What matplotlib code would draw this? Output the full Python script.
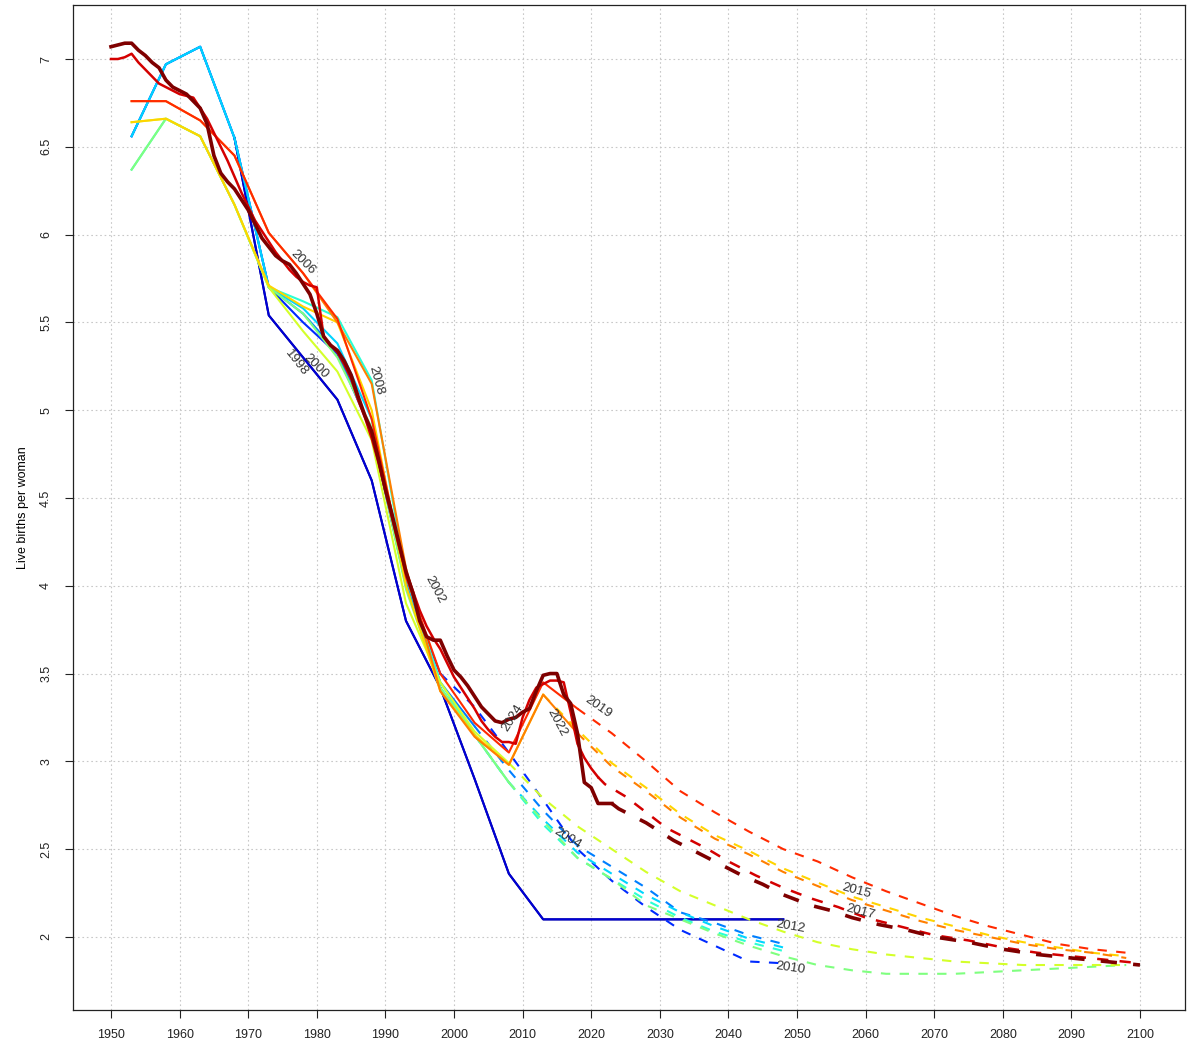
import matplotlib
matplotlib.use("Agg")
import matplotlib.pyplot as plt

plt.rcParams['font.family'] = ['Liberation Sans', 'DejaVu Sans']

# WPP revisions: estimates (solid) and projections (dashed)
revisions = ['1998', '2000', '2002', '2004', '2006', '2008', '2010',
             '2012', '2015', '2017', '2019', '2022', '2024']
colors = ['#00007F', '#0000D4', '#002AFF', '#007FFF', '#00D4FF', '#2AFFD4',
          '#7FFF7F', '#D4FF2A', '#FFD400', '#FF7F00', '#FF2A00', '#D40000',
          '#7F0000']
widths = [1.5] * 11 + [1.8, 2.6]

five = [1953, 1958, 1963, 1968, 1973, 1978, 1983, 1988, 1993, 1998, 2003, 2008, 2013, 2018]
tail = [2003, 2008, 2013, 2018, 2023, 2028, 2033, 2038, 2043, 2048]

est_years = {
    '1998': five[3:10] + tail,
    '2000': five[3:10] + tail,
    '2002': five[:10],
    '2004': five[:11],
    '2006': five[:11],
    '2008': five[:12],
    '2010': five[:12],
    '2012': five[:12],
    '2015': five[:13],
    '2017': five[:14],
    '2019': five[:14],
    '2022': list(range(1950, 2022)),
    '2024': list(range(1950, 2024)),
}
est_values = {
    '1998': [6.55, 5.54, 5.30, 5.06, 4.60, 3.80, 3.42,
             2.90, 2.36, 2.10, 2.10, 2.10, 2.10, 2.10, 2.10, 2.10, 2.10],
    '2000': [6.55, 5.54, 5.30, 5.06, 4.60, 3.80, 3.42,
             2.90, 2.36, 2.10, 2.10, 2.10, 2.10, 2.10, 2.10, 2.10, 2.10],
    '2002': [6.56, 6.97, 7.07, 6.55, 5.70, 5.50, 5.32, 4.88, 4.00, 3.50],
    '2004': [6.56, 6.97, 7.07, 6.55, 5.70, 5.55, 5.33, 4.88, 4.02, 3.45, 3.20],
    '2006': [6.56, 6.97, 7.07, 6.55, 5.70, 5.58, 5.38, 4.95, 4.00, 3.42, 3.15],
    '2008': [6.37, 6.66, 6.56, 6.17, 5.70, 5.62, 5.53, 5.17, 4.05, 3.45, 3.15, 2.88],
    '2010': [6.37, 6.66, 6.56, 6.17, 5.70, 5.55, 5.30, 4.90, 3.98, 3.42, 3.15, 2.88],
    '2012': [6.64, 6.66, 6.56, 6.17, 5.70, 5.45, 5.22, 4.83, 3.90, 3.45, 3.17, 2.99],
    '2015': [6.64, 6.66, 6.56, 6.17, 5.71, 5.59, 5.50, 5.00, 4.00, 3.40, 3.15, 2.98, 3.38],
    '2017': [6.76, 6.76, 6.65, 6.45, 6.01, 5.78, 5.50, 5.15, 4.10, 3.40, 3.14, 2.98, 3.38, 3.16],
    '2019': [6.76, 6.76, 6.65, 6.45, 6.01, 5.78, 5.52, 4.95, 4.05, 3.50, 3.22, 3.05, 3.45, 3.30],
    '2022': [7.00, 7.00, 7.01, 7.03, 6.98, 6.94, 6.90, 6.86, 6.84, 6.82,
             6.80, 6.79, 6.78, 6.72, 6.66, 6.58, 6.50, 6.42, 6.33, 6.24,
             6.16, 6.08, 6.02, 5.96, 5.90, 5.85, 5.80, 5.76, 5.73, 5.71,
             5.70, 5.42, 5.37, 5.33, 5.26, 5.18, 5.06, 4.96, 4.84, 4.70,
             4.54, 4.38, 4.22, 4.08, 3.97, 3.86, 3.77, 3.70, 3.64, 3.56,
             3.48, 3.42, 3.36, 3.30, 3.23, 3.18, 3.14, 3.11, 3.11, 3.10,
             3.25, 3.35, 3.42, 3.44, 3.46, 3.46, 3.45, 3.28, 3.10, 3.02,
             2.96, 2.91],
    '2024': [7.07, 7.08, 7.09, 7.09, 7.05, 7.02, 6.98, 6.95, 6.88, 6.84,
             6.82, 6.80, 6.76, 6.72, 6.63, 6.45, 6.35, 6.30, 6.26, 6.20,
             6.14, 6.06, 5.98, 5.93, 5.88, 5.85, 5.83, 5.78, 5.72, 5.66,
             5.55, 5.42, 5.37, 5.34, 5.28, 5.20, 5.08, 4.97, 4.88, 4.72,
             4.55, 4.40, 4.24, 4.08, 3.96, 3.80, 3.71, 3.69, 3.69, 3.60,
             3.52, 3.48, 3.43, 3.37, 3.31, 3.27, 3.23, 3.22, 3.24, 3.25,
             3.28, 3.30, 3.40, 3.49, 3.50, 3.50, 3.38, 3.33, 3.16, 2.88,
             2.85, 2.76, 2.76, 2.76],
}

late = [2053, 2058, 2063, 2068, 2073, 2078, 2083, 2088, 2093, 2098]
proj_years = {
    '2002': [1998, 2003, 2008, 2013, 2018, 2023, 2028, 2033, 2038, 2043, 2048],
    '2004': [2003, 2008, 2013, 2018, 2023, 2028, 2033, 2038, 2043, 2048],
    '2006': [2003, 2008, 2013, 2018, 2023, 2028, 2033, 2038, 2043, 2048],
    '2008': [2008, 2013, 2018, 2023, 2028, 2033, 2038, 2043, 2048],
    '2010': [2008, 2013, 2018, 2023, 2028, 2033, 2038, 2043, 2048] + late,
    '2012': [2008, 2013, 2018, 2023, 2028, 2033, 2038, 2043, 2048] + late,
    '2015': [2013, 2018, 2023, 2028, 2033, 2038, 2043, 2048] + late,
    '2017': [2018, 2023, 2028, 2033, 2038, 2043, 2048] + late,
    '2019': [2018, 2023, 2028, 2033, 2038, 2043, 2048] + late,
    '2022': [2021, 2022, 2025, 2028, 2031, 2034, 2037, 2040, 2044, 2048, 2052,
             2056, 2060, 2065, 2070, 2075, 2080, 2085, 2090, 2095, 2100],
    '2024': [2023, 2024, 2028, 2032, 2035, 2038, 2042, 2045, 2048, 2052, 2055,
             2058, 2062, 2066, 2070, 2075, 2080, 2085, 2090, 2095, 2100],
}
proj_values = {
    '2002': [3.50, 3.31, 3.05, 2.78, 2.50, 2.32, 2.17, 2.04, 1.95, 1.86, 1.85],
    '2004': [3.20, 2.95, 2.72, 2.52, 2.40, 2.28, 2.14, 2.08, 2.01, 1.96],
    '2006': [3.15, 2.88, 2.67, 2.48, 2.36, 2.24, 2.14, 2.06, 1.99, 1.94],
    '2008': [2.88, 2.64, 2.45, 2.33, 2.21, 2.11, 2.03, 1.97, 1.92],
    '2010': [2.88, 2.66, 2.45, 2.33, 2.18, 2.10, 2.02, 1.95, 1.89,
             1.84, 1.81, 1.79, 1.79, 1.79, 1.80, 1.81, 1.82, 1.83, 1.84],
    '2012': [2.99, 2.79, 2.63, 2.50, 2.37, 2.26, 2.18, 2.10, 2.03,
             1.97, 1.93, 1.90, 1.88, 1.86, 1.85, 1.84, 1.84, 1.84, 1.84],
    '2015': [3.38, 3.18, 2.99, 2.85, 2.70, 2.58, 2.49, 2.39,
             2.31, 2.23, 2.17, 2.11, 2.06, 2.01, 1.97, 1.94, 1.91, 1.89],
    '2017': [3.16, 2.97, 2.83, 2.68, 2.56, 2.47, 2.37,
             2.29, 2.21, 2.15, 2.09, 2.04, 2.00, 1.96, 1.93, 1.91, 1.88],
    '2019': [3.30, 3.16, 3.00, 2.83, 2.71, 2.60, 2.50,
             2.43, 2.34, 2.26, 2.19, 2.12, 2.06, 2.01, 1.96, 1.93, 1.91],
    '2022': [2.91, 2.87, 2.80, 2.71, 2.62, 2.56, 2.50, 2.43, 2.35, 2.28, 2.22,
             2.17, 2.11, 2.06, 2.01, 1.98, 1.94, 1.91, 1.89, 1.87, 1.85],
    '2024': [2.76, 2.73, 2.65, 2.55, 2.49, 2.43, 2.35, 2.30, 2.24, 2.18, 2.15,
             2.11, 2.07, 2.04, 2.00, 1.97, 1.93, 1.90, 1.88, 1.86, 1.84],
}

# label text positions (year, tfr, rotation)
label_pos = {
    '1998': (1977.1, 5.27, -52), '2000': (1979.9, 5.25, -45),
    '2002': (1997.2, 3.98, -62), '2004': (2016.5, 2.56, -32),
    '2006': (1978.0, 5.84, -45), '2008': (1988.6, 5.17, -75),
    '2010': (2049.0, 1.82, -8), '2012': (2049.0, 2.06, -10),
    '2015': (2058.7, 2.26, -15), '2017': (2059.2, 2.14, -15),
    '2019': (2021.0, 3.31, -35), '2022': (2015.0, 3.22, -62),
    '2024': (2008.6, 3.25, 58),
}

fig = plt.figure(figsize=(11.95, 10.44), dpi=100)
ax = fig.add_axes([0.0611, 0.0326, 0.9305, 0.9626])

for rev, col, lw in zip(revisions, colors, widths):
    ax.plot(est_years[rev], est_values[rev], color=col, lw=lw,
            solid_joinstyle='round', zorder=3)
    if rev in proj_years:
        ax.plot(proj_years[rev], proj_values[rev], color=col, lw=lw,
                dashes=(4.5, 4.5), zorder=3)

for rev in revisions:
    x, y, rot = label_pos[rev]
    ax.text(x, y, rev, rotation=rot, ha='center', va='center',
            fontsize=9.5, color='#333333', zorder=4,
            rotation_mode='anchor')

ax.set_xlim(1944.46, 2106.56)
ax.set_ylim(1.584, 7.3075)
ax.set_xticks(range(1950, 2101, 10))
ax.set_yticks([2, 2.5, 3, 3.5, 4, 4.5, 5, 5.5, 6, 6.5, 7])
ax.set_yticklabels(['2', '2.5', '3', '3.5', '4', '4.5', '5', '5.5', '6', '6.5', '7'],
                   rotation=90, va='center')
ax.tick_params(axis='both', direction='out', length=6, width=0.8,
               colors='#222222', labelsize=9)
ax.tick_params(axis='x', pad=8)
ax.tick_params(axis='y', pad=9)
ax.grid(True, color='#C8C8C8', linestyle=(0, (1.5, 2.5)), linewidth=0.8, zorder=0)
ax.set_axisbelow(True)
for sp in ax.spines.values():
    sp.set_linewidth(0.9)
    sp.set_color('#222222')
ax.set_ylabel('Live births per woman', fontsize=9, labelpad=8)

fig.savefig('out.png', dpi=100)
